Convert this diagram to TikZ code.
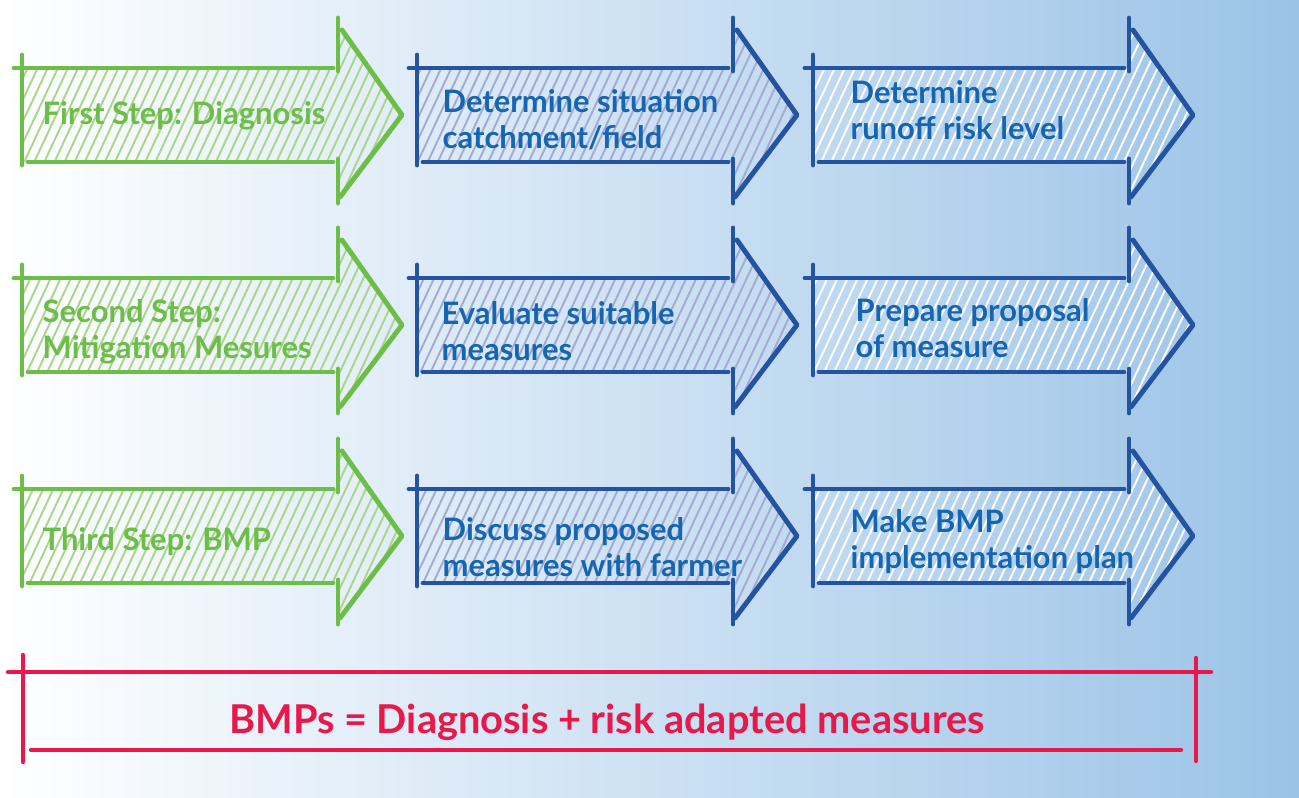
\documentclass[tikz,border=0pt]{standalone}
\usepackage{fontspec}
\setmainfont{Lato}
\usetikzlibrary{patterns.meta}

\definecolor{stepgreen}{RGB}{108,190,72}
\definecolor{hatchgreen}{RGB}{170,214,140}
\definecolor{taskblue}{RGB}{35,83,161}
\definecolor{textblue}{RGB}{22,101,178}
\definecolor{hatchblue}{RGB}{163,171,211}
\definecolor{summaryred}{RGB}{232,24,75}
\definecolor{bgmid}{RGB}{221,233,245}
\definecolor{bgright}{RGB}{155,195,231}

% sketched arrow: #1 = x of tail, #2 = y of axis, #3 = line colour, #4 = hatch colour
\newcommand{\sketcharrow}[4]{
  \fill[pattern={Lines[angle=65,distance=2.6pt,line width=0.55pt]}, pattern color=#4]
    (#1,#2-47) -- (#1+316,#2-47) -- (#1+318,#2-85) -- (#1+380,#2)
    -- (#1+318,#2+85) -- (#1+316,#2+47) -- (#1,#2+47) -- cycle;
  \draw[sketchline, #3] (#1,#2-60) -- (#1,#2+50);
  \draw[sketchline, #3] (#1-8,#2-47) -- (#1+311,#2-47);
  \draw[sketchline, #3] (#1+6,#2+47) -- (#1+311,#2+47);
  \draw[sketchline, #3] (#1+316,#2-97) -- (#1+316,#2-44);
  \draw[sketchline, #3] (#1+316,#2+44) -- (#1+316,#2+88);
  \draw[sketchline, #3] (#1+320,#2-85) -- (#1+380,#2) -- (#1+318,#2+82);
}

\begin{document}
\begin{tikzpicture}[x=0.01cm, y=-0.01cm,
        sketchline/.style={line width=1.4pt, line cap=round, line join=round},
        redline/.style={draw=summaryred, line width=1.2pt, line cap=round},
        steptext/.style={anchor=west, align=left, inner sep=0pt, text=stepgreen, font=\bfseries\fontsize{8.8}{10.2}\selectfont},
        tasktext/.style={anchor=west, align=left, inner sep=0pt, text=textblue, font=\bfseries\fontsize{8.8}{10.2}\selectfont},
        summary/.style={inner sep=0pt, text=summaryred, font=\bfseries\fontsize{11.3}{13}\selectfont}
    ]
        % Background
        \useasboundingbox (0,0) rectangle (1299,798);
        \shade[left color=white, middle color=bgmid, right color=bgright] (0,0) rectangle (1299,798);
        % Arrows
        \sketcharrow{22}{115}{stepgreen}{hatchgreen}
        \sketcharrow{417}{115}{taskblue}{hatchblue}
        \sketcharrow{813}{115}{taskblue}{white}
        \sketcharrow{22}{325}{stepgreen}{hatchgreen}
        \sketcharrow{417}{325}{taskblue}{hatchblue}
        \sketcharrow{813}{325}{taskblue}{white}
        \sketcharrow{22}{536}{stepgreen}{hatchgreen}
        \sketcharrow{417}{536}{taskblue}{hatchblue}
        \sketcharrow{813}{536}{taskblue}{white}
        % First row
        \node[steptext] (first) at (42,116) {First Step: Diagnosis};
        \node[tasktext] (situation) at (442,120) {Determine situation\\catchment/field};
        \node[tasktext] (risklevel) at (850,110) {Determine\\runoff risk level};
        % Second row
        \node[steptext] (second) at (42,332) {Second Step:\\Mitigation Mesures};
        \node[tasktext] (evaluate) at (441,331) {Evaluate suitable\\measures};
        \node[tasktext] (proposal) at (855,328) {Prepare proposal\\of measure};
        % Third row
        \node[steptext] (third) at (42,542) {Third Step: BMP};
        \node[tasktext] (discuss) at (442,547) {Discuss proposed\\measures with farmer};
        \node[tasktext] (implement) at (850,542) {Make BMP\\implementation plan};
        % Summary bracket
        \draw[redline] (8,672) -- (1211,672);
        \draw[redline] (23,655) -- (23,762);
        \draw[redline] (31,750) -- (1181,750);
        \draw[redline] (1196,658) -- (1196,761);
        \node[summary] (bmps) at (607,722) {BMPs = Diagnosis + risk adapted measures};

    \end{tikzpicture}
\end{document}
